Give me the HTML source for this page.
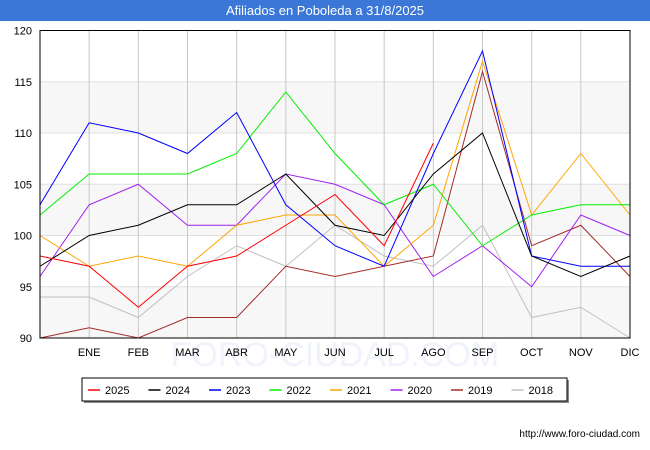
<!DOCTYPE html>
<html><head><meta charset="utf-8"><style>
body{margin:0;width:650px;height:450px;background:#fff;font-family:"Liberation Sans",sans-serif;overflow:hidden}
#title{position:absolute;left:0;top:0;width:650px;height:21px;background:#3a77d6;color:#fff;font-size:13px;line-height:21px;text-align:center}
</style></head><body>
<div id="title">Afiliados en Poboleda a 31/8/2025</div>
<svg id="chart" width="650" height="450" style="position:absolute;left:0;top:0"></svg>
<script>
const months=["","ENE","FEB","MAR","ABR","MAY","JUN","JUL","AGO","SEP","OCT","NOV","DIC"];
const yTicks=[90,95,100,105,110,115,120];
const seriesNames=["2025","2024","2023","2022","2021","2020","2019","2018"];
const colors=["#ff0000","#000000","#0000ff","#00ee00","#ffa500","#a020f0","#a52a2a","#c0c0c0"];
const s2025=[98,97,93,97,98,101,104,99,109];
const s2024=[97,100,101,103,103,106,101,100,106,110,98,96,98];
const s2023=[103,111,110,108,112,103,99,97,108,118,98,97,97];
const s2022=[102,106,106,106,108,114,108,103,105,99,102,103,103];
const s2021=[100,97,98,97,101,102,102,97,101,117,102,108,102];
const s2020=[96,103,105,101,101,106,105,103,96,99,95,102,100];
const s2019=[90,91,90,92,92,97,96,97,98,116,99,101,96];
const s2018=[94,94,92,96,99,97,101,98,97,101,92,93,90];
const allSeries=[s2025,s2024,s2023,s2022,s2021,s2020,s2019,s2018];
const L=40,R=630,T=30.5,B=338,ymin=90,ymax=120;
const x=i=>L+i*(R-L)/12;
const y=v=>B-(v-ymin)*(B-T)/(ymax-ymin);
const NS="http://www.w3.org/2000/svg",svg=document.getElementById('chart');
function mk(t,a,p){const e=document.createElementNS(NS,t);for(const k in a)e.setAttribute(k,a[k]);(p||svg).appendChild(e);return e;}
for(let i=0;i<yTicks.length-1;i+=2){
const b=mk('rect',{x:L,y:y(yTicks[i+1]),width:R-L,height:y(yTicks[i])-y(yTicks[i+1]),fill:'#f7f7f7'});


}
yTicks.forEach(v=>{
const g=mk('line',{x1:L,x2:R,y1:y(v),y2:y(v),stroke:'#e0e0e0'});


const t=mk('text',{x:L-8,y:y(v)+4,'text-anchor':'end','font-size':11,fill:'#000'});t.textContent=v;


});
months.forEach((m,i)=>{
if(i>0){const g=mk('line',{x1:x(i),x2:x(i),y1:T,y2:B,stroke:'#c8c8c8'});

}
});
const wm=mk('text',{x:335,y:366,'text-anchor':'middle','font-size':34,fill:'#f0f3fb'});wm.textContent="FORO-CIUDAD.COM";


months.forEach((m,i)=>{
const t=mk('text',{x:x(i),y:B+18,'text-anchor':'middle','font-size':11,fill:'#000'});t.textContent=m;


});
for(let k=allSeries.length-1;k>=0;k--){
const p=mk('polyline',{points:allSeries[k].map((v,i)=>x(i)+','+y(v)).join(' '),fill:'none',stroke:colors[k],'stroke-width':1});


}
const fr=mk('rect',{x:L,y:T,width:R-L,height:B-T,fill:'none',stroke:'#000'});


mk('rect',{x:84,y:380,width:485,height:23,fill:'#888'});
const lg=mk('rect',{x:82,y:378,width:485,height:23,fill:'#fff',stroke:'#000'});


seriesNames.forEach((n,k)=>{
const lx=88+k*60.5;
const ln=mk('line',{x1:lx,x2:lx+12,y1:390,y2:390,stroke:colors[k],'stroke-width':1.5});


const t=mk('text',{x:lx+17,y:394,'font-size':11,fill:'#000'});t.textContent=n;


});
const u=mk('text',{x:640,y:437,'text-anchor':'end','font-size':10,fill:'#000'});u.textContent="http://www.foro-ciudad.com";


</script>
</body></html>
